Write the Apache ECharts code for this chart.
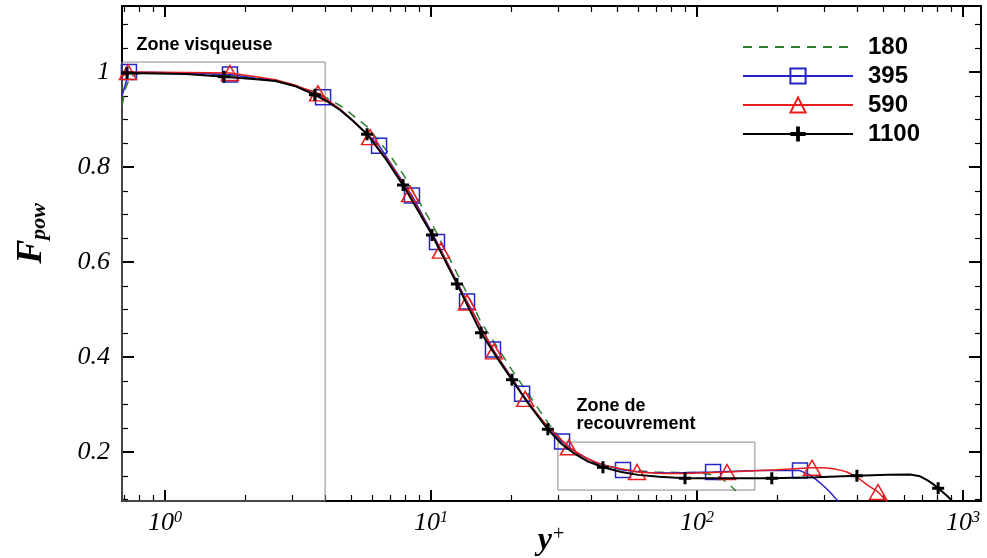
<!DOCTYPE html>
<html><head><meta charset="utf-8">
<script src="https://cdn.jsdelivr.net/npm/echarts@6/dist/echarts.min.js"></script>
<style>html,body{margin:0;padding:0;background:#fff}#c{width:987px;height:558px}</style>
</head><body><div id="c"></div>
<script>
// ---------- data ----------
const seriesNames = ['180', '395', '590', '1100'];
const seriesColors = ['#2f7f2f', '#2424c8', '#e81c1c', '#000000'];

// Re_tau = 180 (dashed, no markers)
const s180_x = [0.69, 0.71, 0.74, 0.8, 1.0, 1.7, 2.6, 3.7, 4.6, 5.75, 6.8, 7.85, 9.0, 10.1, 11.3, 12.5, 14.0, 15.4, 17.5, 20.2, 23.5, 27.5, 33, 38, 44, 55, 70, 85, 100, 112, 122, 132, 140];
const s180_y = [0.93, 0.965, 0.99, 0.997, 0.998, 0.993, 0.983, 0.958, 0.928, 0.885, 0.835, 0.785, 0.728, 0.68, 0.626, 0.577, 0.522, 0.474, 0.426, 0.372, 0.318, 0.262, 0.205, 0.183, 0.172, 0.162, 0.158, 0.157, 0.157, 0.153, 0.147, 0.132, 0.118];

// Re_tau = 395 (squares); mark = 1 where a marker is drawn
const s395_x = [0.69, 0.732, 1.2, 1.755, 2.2, 2.6, 3.1, 3.93, 4.55, 5.1, 6.38, 7.3, 8.48, 10.53, 13.66, 17.1, 22.0, 26, 31.1, 36, 42, 52.7, 65, 80, 114.9, 170, 243.8, 265, 282, 300, 316, 330, 345];
const s395_y = [0.95, 1.0, 0.998, 0.995, 0.987, 0.982, 0.97, 0.947, 0.922, 0.897, 0.845, 0.795, 0.74, 0.642, 0.517, 0.416, 0.323, 0.268, 0.222, 0.195, 0.177, 0.162, 0.157, 0.156, 0.158, 0.161, 0.161, 0.152, 0.141, 0.128, 0.116, 0.104, 0.092];
const s395_mark = [0, 1, 0, 1, 0, 0, 0, 1, 0, 0, 1, 0, 1, 1, 1, 1, 1, 0, 1, 0, 0, 1, 0, 0, 1, 0, 1, 0, 0, 0, 0, 0, 0];

// Re_tau = 590 (triangles)
const s590_x = [0.69, 0.726, 1.2, 1.755, 2.2, 2.6, 3.1, 3.76, 4.55, 5.1, 5.9, 7.0, 8.34, 10.9, 13.66, 17.25, 22.6, 27, 33.0, 39, 45, 59.5, 75, 90, 129.7, 200, 270.6, 300, 325, 345, 366, 400, 436, 479, 520];
const s590_y = [0.99, 1.0, 0.999, 0.998, 0.99, 0.984, 0.972, 0.955, 0.922, 0.897, 0.863, 0.808, 0.743, 0.624, 0.515, 0.412, 0.312, 0.258, 0.21, 0.185, 0.172, 0.158, 0.155, 0.155, 0.158, 0.163, 0.167, 0.167, 0.165, 0.162, 0.158, 0.147, 0.131, 0.116, 0.095];
const s590_mark = [0, 1, 0, 1, 0, 0, 0, 1, 0, 0, 1, 0, 1, 1, 1, 1, 1, 0, 1, 0, 0, 1, 0, 0, 1, 0, 1, 0, 0, 0, 0, 0, 0, 1, 0];

// Re_tau = 1100 (plus)
const s1100_x = [0.69, 0.72, 1.2, 1.667, 2.2, 2.6, 3.1, 3.66, 4.1, 4.55, 5.1, 5.75, 6.7, 7.85, 8.9, 10.09, 11.3, 12.52, 13.9, 15.42, 17.6, 20.16, 23.5, 27.5, 31, 35, 39, 44.3, 52, 60, 72, 90.1, 130, 191, 280, 399, 520, 632, 690, 733, 770, 806, 870, 930];
const s1100_y = [0.997, 0.998, 0.996, 0.99, 0.985, 0.981, 0.97, 0.952, 0.937, 0.92, 0.897, 0.869, 0.82, 0.762, 0.71, 0.657, 0.603, 0.554, 0.502, 0.451, 0.401, 0.352, 0.298, 0.248, 0.217, 0.195, 0.18, 0.168, 0.158, 0.152, 0.148, 0.145, 0.145, 0.145, 0.147, 0.15, 0.152, 0.153, 0.149, 0.141, 0.133, 0.124, 0.108, 0.092];
const s1100_mark = [0, 1, 0, 1, 0, 0, 0, 1, 0, 0, 0, 1, 0, 1, 0, 1, 0, 1, 0, 1, 0, 1, 0, 1, 0, 0, 0, 1, 0, 0, 0, 1, 0, 1, 0, 1, 0, 0, 0, 0, 0, 1, 0, 0];

// axes
const xMin = 0.6894, xMax = 1168, yMin = 0.097, yMax = 1.139;
const xMajorTicks = [1, 10, 100, 1000];
const xMinorTicks = [0.7, 0.8, 0.9, 2, 3, 4, 5, 6, 7, 8, 9, 20, 30, 40, 50, 60, 70, 80, 90, 200, 300, 400, 500, 600, 700, 800, 900];
const yMajorTicks = [0.2, 0.4, 0.6, 0.8, 1];
const yMinorTicks = [0.1, 0.15, 0.25, 0.3, 0.35, 0.45, 0.5, 0.55, 0.65, 0.7, 0.75, 0.85, 0.9, 0.95, 1.05, 1.1];

// annotation zones [x0, y0, x1, y1]
const zoneVisq = [0.6894, 0.097, 4.0, 1.021];
const zoneRecouv = [30, 0.12, 165, 0.221];
const zoneVisqLabel = 'Zone visqueuse';
const zoneRecouvLabel = 'Zone de\nrecouvrement';

// ---------- chart ----------
const serif = 'Liberation Serif';
const sans = 'Liberation Sans';
const plusPath = 'path://M4.5,0H7.5V4.5H12V7.5H7.5V12H4.5V7.5H0V4.5H4.5Z';

function build(xs, ys, marks) {
  return xs.map((x, i) => (marks && marks[i]) ? [x, ys[i]] : { value: [x, ys[i]], symbol: 'none' });
}

function xAx(pos, vals, len, withLabel) {
  const a = {
    type: 'log', logBase: 10, min: xMin, max: xMax, position: pos,
    axisLine: { show: true, onZero: false, lineStyle: { color: '#000', width: 2 } },
    axisTick: { show: true, inside: true, length: len, customValues: vals, lineStyle: { color: '#000', width: len > 8 ? 2 : 1.2 } },
    axisLabel: { show: false },
    splitLine: { show: false }, minorTick: { show: false }, minorSplitLine: { show: false }
  };
  if (withLabel) {
    a.axisLabel = {
      show: true, customValues: vals, margin: 9,
      formatter: v => '{a|10}{b|' + Math.round(Math.log10(v)) + '}',
      rich: {
        a: { fontFamily: serif, fontStyle: 'italic', fontSize: 26, color: '#000', lineHeight: 26 },
        b: { fontFamily: serif, fontStyle: 'italic', fontSize: 16, color: '#000', verticalAlign: 'top', lineHeight: 16 }
      }
    };
    a.name = '{y|y}{p|+}';
    a.nameLocation = 'middle';
    a.nameGap = 24;
    a.nameMoveOverlap = false;
    a.nameTextStyle = {
      rich: {
        y: { fontFamily: serif, fontStyle: 'italic', fontWeight: 'bold', fontSize: 32, color: '#000', lineHeight: 32 },
        p: { fontFamily: serif, fontStyle: 'italic', fontSize: 20, color: '#000', verticalAlign: 'top', lineHeight: 20 }
      }
    };
  }
  return a;
}

function yAx(pos, vals, len, withLabel) {
  const a = {
    type: 'value', min: yMin, max: yMax, position: pos,
    axisLine: { show: true, onZero: false, lineStyle: { color: '#000', width: 2 } },
    axisTick: { show: true, inside: true, length: len, customValues: vals, lineStyle: { color: '#000', width: len > 8 ? 2 : 1.2 } },
    axisLabel: { show: false },
    splitLine: { show: false }, minorTick: { show: false }
  };
  if (withLabel) {
    a.axisLabel = {
      show: true, customValues: vals, margin: 12,
      fontFamily: serif, fontStyle: 'italic', fontSize: 26, color: '#000',
      formatter: v => (Math.abs(v - 1) < 1e-9 ? '1' : v.toFixed(1))
    };
    a.name = '{f|F}{s|pow}';
    a.nameLocation = 'middle';
    a.nameRotate = 90;
    a.nameGap = 72;
    a.nameMoveOverlap = false;
    a.nameTextStyle = {
      rich: {
        f: { fontFamily: serif, fontStyle: 'italic', fontWeight: 'bold', fontSize: 36, color: '#000', lineHeight: 36, padding: [0, 0, 0, 40] },
        s: { fontFamily: serif, fontStyle: 'italic', fontWeight: 'bold', fontSize: 22, color: '#000', verticalAlign: 'bottom', lineHeight: 22 }
      }
    };
  }
  return a;
}

const option = {
  animation: false,
  backgroundColor: '#fff',
  grid: { left: 122, right: 6, top: 6, bottom: 57, containLabel: false, outerBoundsMode: 'none' },
  xAxis: [
    xAx('bottom', xMajorTicks, 11, true),
    xAx('bottom', xMinorTicks, 6, false),
    xAx('top', xMajorTicks, 11, false),
    xAx('top', xMinorTicks, 6, false)
  ],
  yAxis: [
    yAx('left', yMajorTicks, 12, true),
    yAx('left', yMinorTicks, 6, false),
    yAx('right', yMajorTicks, 12, false),
    yAx('right', yMinorTicks, 6, false)
  ],
  legend: {
    orient: 'vertical', left: 737, top: 30,
    itemWidth: 110, itemHeight: 19, itemGap: 5,
    data: seriesNames,
    textStyle: { fontFamily: sans, fontWeight: 'bold', fontSize: 24, color: '#000', lineHeight: 19, padding: [0, 0, 0, 10] }
  },
  series: [
    {
      name: seriesNames[0], type: 'line', xAxisIndex: 0, yAxisIndex: 0,
      data: build(s180_x, s180_y, null), symbol: 'none', showSymbol: false,
      lineStyle: { color: seriesColors[0], width: 1.5, type: [9, 7] },
      itemStyle: { color: 'rgba(0,0,0,0)', borderColor: 'rgba(0,0,0,0)' },
      emphasis: { disabled: true }, z: 2,
      markArea: {
        silent: true,
        itemStyle: { color: 'rgba(0,0,0,0)', borderColor: '#8a8a8a', borderWidth: 1 },
        label: { show: true, fontFamily: sans, fontWeight: 'bold', fontSize: 18, color: '#000', lineHeight: 18, align: 'left', verticalAlign: 'top' },
        data: [
          [{ coord: [zoneVisq[0], zoneVisq[1]], name: zoneVisqLabel, label: { position: [15, -26] } }, { coord: [zoneVisq[2], zoneVisq[3]] }],
          [{ coord: [zoneRecouv[0], zoneRecouv[1]], name: zoneRecouvLabel, label: { position: [19, -45] } }, { coord: [zoneRecouv[2], zoneRecouv[3]] }]
        ]
      }
    },
    {
      name: seriesNames[1], type: 'line', xAxisIndex: 0, yAxisIndex: 0,
      data: build(s395_x, s395_y, s395_mark), symbol: 'rect', symbolSize: 15, showSymbol: true,
      lineStyle: { color: seriesColors[1], width: 1.5 },
      itemStyle: { color: 'rgba(0,0,0,0)', borderColor: seriesColors[1], borderWidth: 1.5 },
      emphasis: { disabled: true }, z: 3
    },
    {
      name: seriesNames[2], type: 'line', xAxisIndex: 0, yAxisIndex: 0,
      data: build(s590_x, s590_y, s590_mark), symbol: 'triangle', symbolSize: [17, 15], showSymbol: true,
      lineStyle: { color: seriesColors[2], width: 1.5 },
      itemStyle: { color: 'rgba(0,0,0,0)', borderColor: seriesColors[2], borderWidth: 1.5 },
      emphasis: { disabled: true }, z: 4
    },
    {
      name: seriesNames[3], type: 'line', xAxisIndex: 0, yAxisIndex: 0,
      data: build(s1100_x, s1100_y, s1100_mark), symbol: plusPath, symbolSize: 12, showSymbol: true,
      lineStyle: { color: seriesColors[3], width: 2 },
      itemStyle: { color: seriesColors[3] },
      emphasis: { disabled: true }, z: 5
    }
  ]
};

const chart = echarts.init(document.getElementById('c'), null, { renderer: 'canvas' });
chart.setOption(option);
</script>
</body></html>
